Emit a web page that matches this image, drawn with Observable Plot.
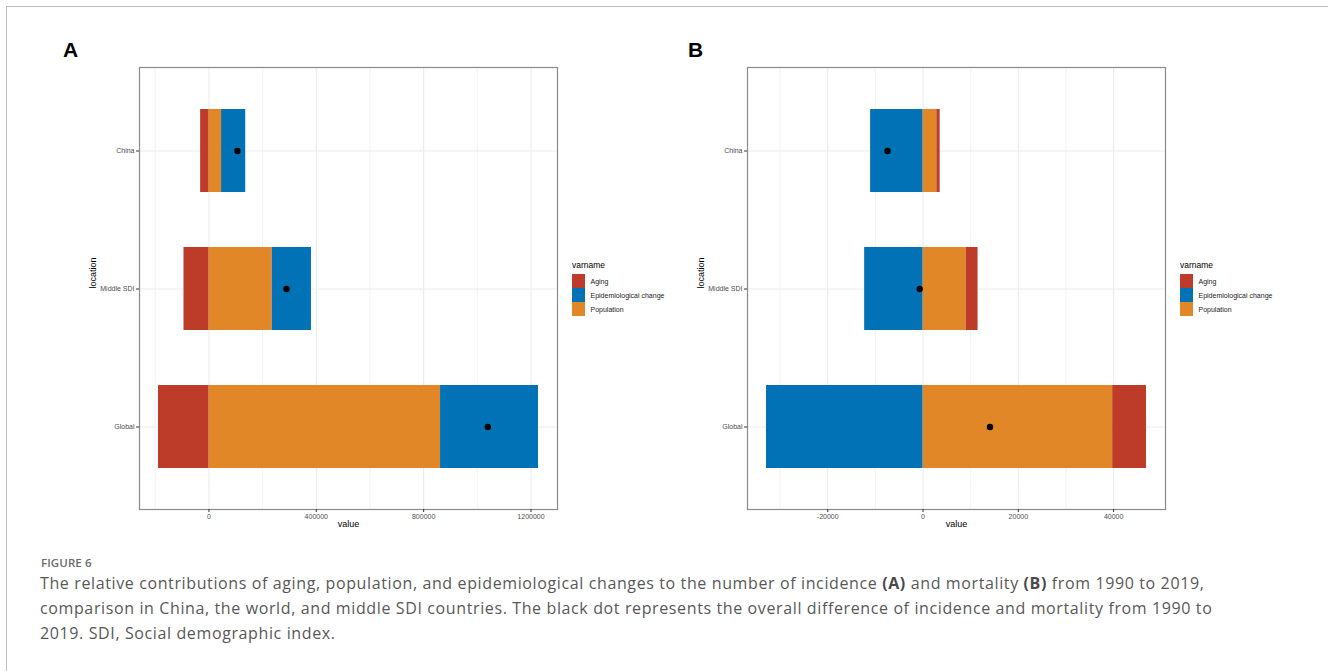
<!DOCTYPE html>
<html>
<head>
<meta charset="utf-8">
<script src="https://cdn.jsdelivr.net/npm/d3@7"></script>
<script src="https://cdn.jsdelivr.net/npm/@observablehq/plot@0.6"></script>
<style>
  html, body { margin: 0; padding: 0; background: #fff; }
  body { width: 1328px; height: 671px; position: relative; overflow: hidden; font-family: "Liberation Sans", Arial, sans-serif; }
  #border { position: absolute; left: 6px; top: 6px; right: -10px; bottom: -10px; border-top: 1.5px solid #bdbdbd; border-left: 1.5px solid #bdbdbd; }
  .plabel { position: absolute; font: bold 21px "Liberation Sans", Arial, sans-serif; color: #000; }
  .panel { position: absolute; }
  .legend { position: absolute; font-family: "Liberation Sans", Arial, sans-serif; color: #000; }
  .legend .title { font-size: 8.5px; height: 12px; line-height: 12px; margin-bottom: 3px; }
  .legend .item { display: flex; align-items: center; height: 14px; }
  .legend .sw { width: 12.5px; height: 13.6px; margin-right: 6px; }
  .legend .lab { font-size: 7px; color: #1a1a1a; }
  #fig { position: absolute; left: 41px; top: 555px; font: 600 11.5px "Open Sans", sans-serif; color: #6b6b6b; letter-spacing: 0.1px; }
  #cap { position: absolute; left: 40px; top: 571px; font: 16px "Open Sans", sans-serif; color: #585858; line-height: 25px; white-space: nowrap; letter-spacing: 0.62px; }
  #cap b { font-weight: 700; color: #4a4a4a; }
</style>
</head>
<body>
<div id="border"></div>
<div class="plabel" style="left:63px; top:38px;">A</div>
<div class="plabel" style="left:688px; top:38px;">B</div>
<div id="panelA" class="panel" style="left:40px; top:57px;"></div>
<div id="panelB" class="panel" style="left:650px; top:57px;"></div>
<div id="legendA" class="legend" style="left:572px; top:259px;"></div>
<div id="legendB" class="legend" style="left:1180px; top:259px;"></div>
<div id="fig">FIGURE 6</div>
<div id="cap">The relative contributions of aging, population, and epidemiological changes to the number of incidence <b>(A)</b> and mortality <b>(B)</b> from 1990 to 2019,<br>comparison in China, the world, and middle SDI countries. The black dot represents the overall difference of incidence and mortality from 1990 to<br>2019. SDI, Social demographic index.</div>
<script>
// ---- data ----
const locations = ["China", "Middle SDI", "Global"];
const varnames = ["Aging", "Epidemiological change", "Population"];
const colors = ["#BC3C29", "#0072B5", "#E18727"];
const stackOrder = ["Population", "Epidemiological change", "Aging"];

// Panel A: incidence
const incAging = [-31000, -93000, -188000];
const incEpi = [90000, 146000, 365000];
const incPop = [47000, 236000, 863000];
const incTotal = [106000, 289000, 1039000];
const incTicks = [0, 400000, 800000, 1200000];
const incMinor = [-200000, 200000, 600000, 1000000];

// Panel B: mortality
const mortAging = [700, 2500, 7100];
const mortEpi = [-11000, -12250, -32850];
const mortPop = [2900, 9050, 39800];
const mortTotal = [-7450, -700, 14050];
const mortTicks = [-20000, 0, 20000, 40000];
const mortMinor = [-30000, -10000, 10000, 30000];

function panel({aging, epi, pop, total, ticks, minor, marginLeft, width}) {
  const byVar = {"Aging": aging, "Epidemiological change": epi, "Population": pop};
  const rows = [];
  locations.forEach((loc, i) => {
    for (const v of stackOrder) rows.push({location: loc, varname: v, value: byVar[v][i]});
  });
  const lo = d3.min(locations, (l, i) => d3.sum(stackOrder, v => Math.min(0, byVar[v][i])));
  const hi = d3.max(locations, (l, i) => d3.sum(stackOrder, v => Math.max(0, byVar[v][i])));
  const ext = (hi - lo) * 0.05;
  const dots = locations.map((l, i) => ({location: l, total: total[i]}));
  return Plot.plot({
    width, height: 482,
    marginLeft, marginRight: 5, marginTop: 10, marginBottom: 30,
    style: {fontFamily: "Liberation Sans, Arial, sans-serif", fontSize: "7px", color: "#4d4d4d", background: "transparent"},
    x: {domain: [lo - ext, hi + ext], label: null},
    y: {domain: locations, paddingInner: 0.4, paddingOuter: 0.3, label: null},
    color: {domain: varnames, range: colors},
    marks: [
      Plot.gridX(minor, {stroke: "#ebebeb", strokeOpacity: 1, strokeWidth: 0.6}),
      Plot.gridX(ticks, {stroke: "#ebebeb", strokeOpacity: 1, strokeWidth: 1.1}),
      Plot.gridY({stroke: "#ebebeb", strokeOpacity: 1, strokeWidth: 1.1}),
      Plot.barX(rows, Plot.stackX({x: "value", y: "location", fill: "varname"})),
      Plot.dot(dots, {x: "total", y: "location", r: 3.2, fill: "#000"}),
      Plot.frame({stroke: "#8a8a8a", strokeWidth: 1.2}),
      Plot.axisX(ticks, {tickSize: 3, tickPadding: 2, stroke: "#333", fontSize: 7, tickFormat: d => String(d), label: null}),
      Plot.axisY({tickSize: 3, tickPadding: 2, stroke: "#333", fontSize: 7, label: null}),
      Plot.text(["value"], {frameAnchor: "bottom", dy: 17, fontSize: 9, fill: "#000"}),
      Plot.text(["location"], {frameAnchor: "left", dx: -46, rotate: -90, fontSize: 9, fill: "#000"})
    ]
  });
}

document.getElementById("panelA").append(panel({
  aging: incAging, epi: incEpi, pop: incPop, total: incTotal,
  ticks: incTicks, minor: incMinor, marginLeft: 99, width: 522
}));
document.getElementById("panelB").append(panel({
  aging: mortAging, epi: mortEpi, pop: mortPop, total: mortTotal,
  ticks: mortTicks, minor: mortMinor, marginLeft: 97, width: 520
}));

function legend(id) {
  const el = document.getElementById(id);
  const t = document.createElement("div");
  t.className = "title"; t.textContent = "varname";
  el.append(t);
  varnames.forEach((v, i) => {
    const it = document.createElement("div"); it.className = "item";
    const sw = document.createElement("div"); sw.className = "sw"; sw.style.background = colors[i];
    const lb = document.createElement("div"); lb.className = "lab"; lb.textContent = v;
    it.append(sw, lb); el.append(it);
  });
}
legend("legendA");
legend("legendB");
</script>
</body>
</html>
